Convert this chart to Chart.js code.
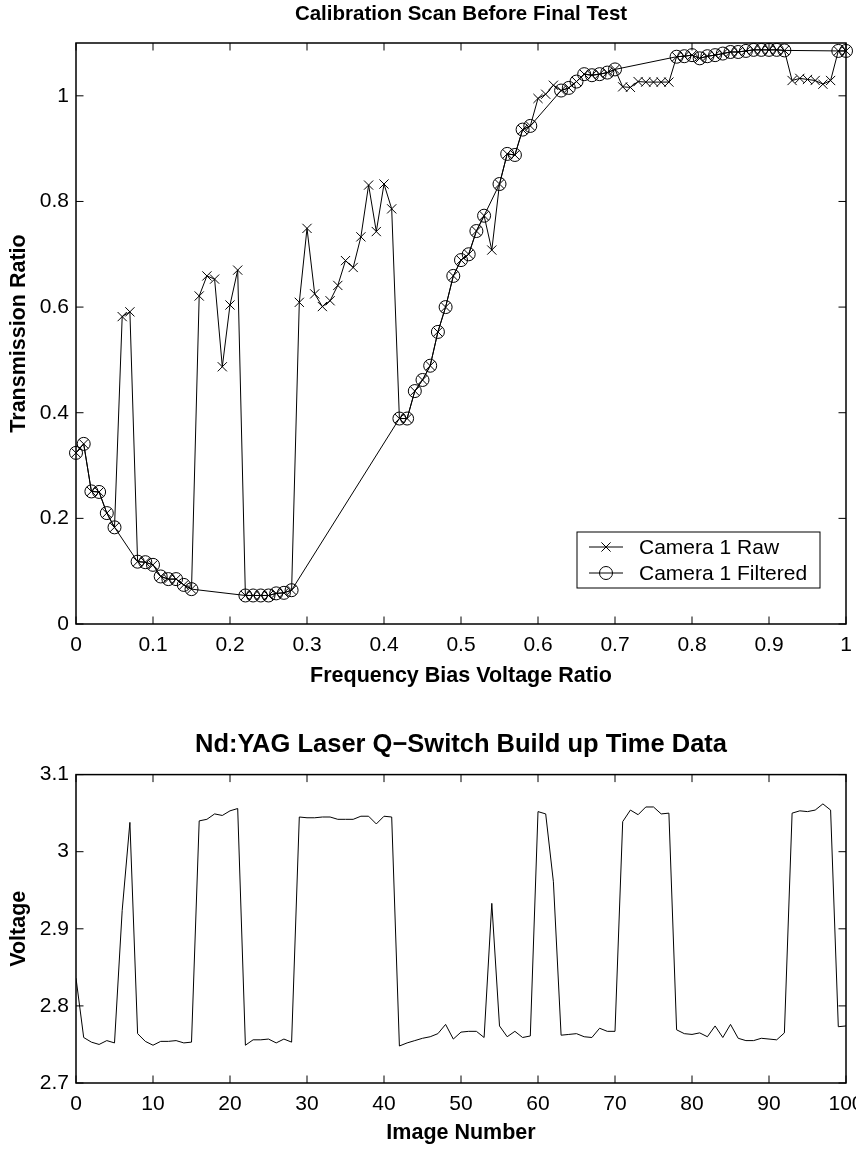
<!DOCTYPE html>
<html>
<head>
<meta charset="utf-8">
<script src="https://cdn.jsdelivr.net/npm/chart.js@4.4.1/dist/chart.umd.min.js"></script>
<style>
html,body{margin:0;padding:0;background:#fff;overflow:hidden;width:856px;height:1151px;}
#w1{position:absolute;left:0;top:0;}
#w2{position:absolute;left:0;top:700px;}
canvas{display:block;}
</style>
</head>
<body>
<div id="w1"><canvas id="c1" width="880" height="700"></canvas></div>
<div id="w2"><canvas id="c2" width="880" height="451"></canvas></div>
<script>
// ---------- Data: top chart ----------
const biasRatio = [0,0.01,0.02,0.03,0.04,0.05,0.06,0.07,0.08,0.09,
  0.10,0.11,0.12,0.13,0.14,0.15,0.16,0.17,0.18,0.19,
  0.20,0.21,0.22,0.23,0.24,0.25,0.26,0.27,0.28,0.29,
  0.30,0.31,0.32,0.33,0.34,0.35,0.36,0.37,0.38,0.39,
  0.40,0.41,0.42,0.43,0.44,0.45,0.46,0.47,0.48,0.49,
  0.50,0.51,0.52,0.53,0.54,0.55,0.56,0.57,0.58,0.59,
  0.60,0.61,0.62,0.63,0.64,0.65,0.66,0.67,0.68,0.69,
  0.70,0.71,0.72,0.73,0.74,0.75,0.76,0.77,0.78,0.79,
  0.80,0.81,0.82,0.83,0.84,0.85,0.86,0.87,0.88,0.89,
  0.90,0.91,0.92,0.93,0.94,0.95,0.96,0.97,0.98,0.99,1.00];

const rawTransmission = [0.324,0.341,0.251,0.250,0.210,0.183,0.582,0.591,0.118,0.117,
  0.112,0.090,0.085,0.085,0.074,0.066,0.621,0.659,0.653,0.487,
  0.604,0.670,0.054,0.054,0.054,0.054,0.058,0.059,0.064,0.609,
  0.749,0.625,0.601,0.612,0.641,0.688,0.675,0.733,0.831,0.743,
  0.833,0.786,0.389,0.389,0.441,0.462,0.489,0.553,0.600,0.659,
  0.689,0.700,0.744,0.773,0.708,0.833,0.890,0.888,0.936,0.943,
  0.995,1.003,1.020,1.010,1.015,1.027,1.041,1.039,1.041,1.044,
  1.050,1.017,1.016,1.027,1.026,1.026,1.026,1.026,1.074,1.075,
  1.077,1.071,1.075,1.077,1.080,1.083,1.083,1.085,1.087,1.087,
  1.087,1.087,1.086,1.029,1.033,1.031,1.029,1.022,1.029,1.085,1.085];

const filteredTransmission = [0.324,0.341,0.251,0.250,0.210,0.183,null,null,0.118,0.117,
  0.112,0.090,0.085,0.085,0.074,0.066,null,null,null,null,
  null,null,0.054,0.054,0.054,0.054,0.058,0.059,0.064,null,
  null,null,null,null,null,null,null,null,null,null,
  null,null,0.389,0.389,0.441,0.462,0.489,0.553,0.600,0.659,
  0.689,0.700,0.744,0.773,null,0.833,0.890,0.888,0.936,0.943,
  null,null,null,1.010,1.015,1.027,1.041,1.039,1.041,1.044,
  1.050,null,null,null,null,null,null,null,1.074,1.075,
  1.077,1.071,1.075,1.077,1.080,1.083,1.083,1.085,1.087,1.087,
  1.087,1.087,1.086,null,null,null,null,null,null,1.085,1.085];

const ratioTicks = [0,0.1,0.2,0.3,0.4,0.5,0.6,0.7,0.8,0.9,1];
const transmissionTicks = [0,0.2,0.4,0.6,0.8,1];

// ---------- Data: bottom chart ----------
const imageNumber = [0,1,2,3,4,5,6,7,8,9,10,11,12,13,14,15,16,17,18,19,
  20,21,22,23,24,25,26,27,28,29,30,31,32,33,34,35,36,37,38,39,
  40,41,42,43,44,45,46,47,48,49,50,51,52,53,54,55,56,57,58,59,
  60,61,62,63,64,65,66,67,68,69,70,71,72,73,74,75,76,77,78,79,
  80,81,82,83,84,85,86,87,88,89,90,91,92,93,94,95,96,97,98,99,100];

const voltage = [2.836,2.759,2.753,2.750,2.755,2.752,2.924,3.038,2.764,2.754,
  2.749,2.754,2.754,2.755,2.752,2.753,3.040,3.042,3.049,3.047,
  3.053,3.056,2.749,2.756,2.756,2.757,2.752,2.757,2.753,3.045,
  3.044,3.044,3.045,3.045,3.042,3.042,3.042,3.046,3.046,3.036,
  3.046,3.045,2.748,2.752,2.755,2.758,2.760,2.764,2.776,2.757,
  2.766,2.767,2.767,2.759,2.933,2.774,2.760,2.767,2.759,2.761,
  3.052,3.049,2.961,2.762,2.763,2.764,2.760,2.759,2.771,2.767,
  2.767,3.039,3.054,3.048,3.058,3.058,3.049,3.050,2.769,2.764,
  2.763,2.765,2.760,2.774,2.759,2.776,2.758,2.755,2.755,2.758,
  2.757,2.756,2.765,3.050,3.053,3.052,3.054,3.062,3.054,2.773,2.774];

const imageTicks = [0,10,20,30,40,50,60,70,80,90,100];
const voltageTicks = [2.7,2.8,2.9,3,3.1];

// ---------- Styling ----------
const FAMILY = "'Liberation Sans', Arial, Helvetica, sans-serif";
const tickFont = {family: FAMILY, size: 21, weight: 'normal', lineHeight: 1.2};
const labelFont = {family: FAMILY, size: 21.5, weight: 'bold', lineHeight: 1.2};
const topTitleFont = {family: FAMILY, size: 20.5, weight: 'bold', lineHeight: 1.2};
const bottomTitleFont = {family: FAMILY, size: 25.5, weight: 'bold', lineHeight: 1.2};

const framePlugin = {
  id: 'matlabFrame',
  afterDatasetsDraw(chart) {
    const {ctx, chartArea: a, scales} = chart;
    const L = 7.5;
    ctx.save();
    ctx.strokeStyle = '#000';
    ctx.lineWidth = 1;
    ctx.beginPath();
    scales.x.ticks.forEach(t => {
      const px = scales.x.getPixelForValue(t.value);
      ctx.moveTo(px, a.bottom); ctx.lineTo(px, a.bottom - L);
      ctx.moveTo(px, a.top); ctx.lineTo(px, a.top + L);
    });
    scales.y.ticks.forEach(t => {
      const py = scales.y.getPixelForValue(t.value);
      ctx.moveTo(a.left, py); ctx.lineTo(a.left + L, py);
      ctx.moveTo(a.right, py); ctx.lineTo(a.right - L, py);
    });
    ctx.stroke();
    ctx.lineWidth = 1.5;
    ctx.strokeRect(a.left, a.top, a.right - a.left, a.bottom - a.top);
    ctx.restore();
  }
};

const legendItems = [
  {text: 'Camera 1 Raw', marker: 'crossRot'},
  {text: 'Camera 1 Filtered', marker: 'circle'}
];

const boxLegendPlugin = {
  id: 'boxLegend',
  afterDraw(chart) {
    const {ctx, chartArea: a} = chart;
    const w = 243, h = 56;
    const x0 = a.right - 26 - w, y0 = a.bottom - 36 - h;
    ctx.save();
    ctx.fillStyle = '#fff';
    ctx.fillRect(x0, y0, w, h);
    ctx.strokeStyle = '#000';
    ctx.lineWidth = 1;
    ctx.strokeRect(x0, y0, w, h);
    ctx.font = "21px " + FAMILY;
    ctx.textBaseline = 'middle';
    ctx.fillStyle = '#000';
    legendItems.forEach((it, i) => {
      const cy = y0 + 15 + i * 26;
      const lx0 = x0 + 12, lx1 = x0 + 46, mx = (lx0 + lx1) / 2;
      ctx.beginPath();
      ctx.moveTo(lx0, cy); ctx.lineTo(lx1, cy);
      if (it.marker === 'crossRot') {
        const r = 4.6;
        ctx.moveTo(mx - r, cy - r); ctx.lineTo(mx + r, cy + r);
        ctx.moveTo(mx - r, cy + r); ctx.lineTo(mx + r, cy - r);
        ctx.stroke();
      } else {
        ctx.stroke();
        ctx.beginPath();
        ctx.arc(mx, cy, 6.5, 0, Math.PI * 2);
        ctx.stroke();
      }
      ctx.fillText(it.text, x0 + 62, cy + 1);
    });
    ctx.restore();
  }
};

function xyPoints(xs, ys) {
  return xs.map((x, i) => ({x: x, y: ys[i]}));
}

function axisCommon(values, tickPad) {
  return {
    type: 'linear',
    grid: {display: false, drawTicks: false},
    border: {display: false},
    afterBuildTicks: s => { s.ticks = values.map(v => ({value: v})); },
    ticks: {
      autoSkip: false, maxRotation: 0, minRotation: 0, padding: tickPad,
      color: '#000', font: tickFont,
      callback: v => String(v)
    }
  };
}

// ---------- Top chart ----------
new Chart(document.getElementById('c1'), {
  type: 'line',
  data: {
    datasets: [
      {
        label: 'Camera 1 Raw',
        data: xyPoints(biasRatio, rawTransmission),
        borderColor: '#000', borderWidth: 1, tension: 0,
        pointStyle: 'crossRot', pointRadius: 6.5, pointBorderWidth: 1,
        pointBorderColor: '#000', pointBackgroundColor: 'rgba(0,0,0,0)',
        clip: false
      },
      {
        label: 'Camera 1 Filtered',
        data: xyPoints(biasRatio, filteredTransmission),
        borderColor: '#000', borderWidth: 1, tension: 0, spanGaps: true,
        pointStyle: 'circle', pointRadius: 6.5, pointBorderWidth: 1,
        pointBorderColor: '#000', pointBackgroundColor: 'rgba(0,0,0,0)',
        clip: false
      }
    ]
  },
  options: {
    responsive: false, animation: false, devicePixelRatio: 1,
    layout: {padding: {left: 0, right: 34, top: 0, bottom: 0}},
    plugins: {
      legend: {display: false},
      tooltip: {enabled: false},
      title: {
        display: true, text: 'Calibration Scan Before Final Test',
        fullSize: false, color: '#000', font: topTitleFont,
        padding: {top: 2, bottom: 16.4}
      }
    },
    scales: {
      x: Object.assign(axisCommon(ratioTicks, 9), {
        min: 0, max: 1,
        title: {display: true, text: 'Frequency Bias Voltage Ratio', color: '#000', font: labelFont, padding: {top: 0, bottom: 11}},
        afterFit: s => { s.height = 76; }
      }),
      y: Object.assign(axisCommon(transmissionTicks, 7), {
        min: 0, max: 1.1,
        title: {display: true, text: 'Transmission Ratio', color: '#000', font: labelFont, padding: {top: 6, bottom: 0}},
        afterFit: s => { s.width = 76; }
      })
    }
  },
  plugins: [framePlugin, boxLegendPlugin]
});

// ---------- Bottom chart ----------
new Chart(document.getElementById('c2'), {
  type: 'line',
  data: {
    datasets: [
      {
        label: 'Voltage',
        data: xyPoints(imageNumber, voltage),
        borderColor: '#000', borderWidth: 1, tension: 0,
        pointRadius: 0
      }
    ]
  },
  options: {
    responsive: false, animation: false, devicePixelRatio: 1,
    layout: {padding: {left: 0, right: 34, top: 0, bottom: 0}},
    plugins: {
      legend: {display: false},
      tooltip: {enabled: false},
      title: {
        display: true, text: 'Nd:YAG Laser Q\u2212Switch Build up Time Data',
        fullSize: false, color: '#000', font: bottomTitleFont,
        padding: {top: 30, bottom: 14}
      }
    },
    scales: {
      x: Object.assign(axisCommon(imageTicks, 9), {
        min: 0, max: 100,
        title: {display: true, text: 'Image Number', color: '#000', font: labelFont, padding: {top: 0, bottom: 5}},
        afterFit: s => { s.height = 68; }
      }),
      y: Object.assign(axisCommon(voltageTicks, 7), {
        min: 2.7, max: 3.1,
        title: {display: true, text: 'Voltage', color: '#000', font: labelFont, padding: {top: 6, bottom: 0}},
        afterFit: s => { s.width = 76; }
      })
    }
  },
  plugins: [framePlugin]
});
</script>
</body>
</html>
